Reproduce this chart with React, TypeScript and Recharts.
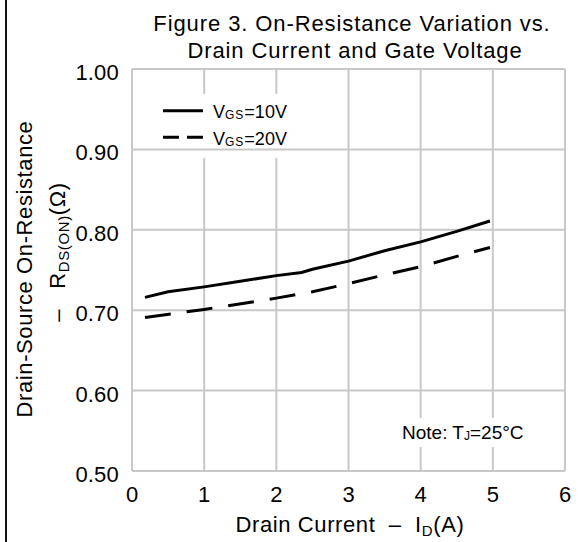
import React from 'react';
import { LineChart, Line, XAxis, YAxis, CartesianGrid } from 'recharts';

// axis ticks
const currentTicks = [0, 1, 2, 3, 4, 5, 6];
const resistanceTicks = [0.5, 0.6, 0.7, 0.8, 0.9, 1.0];

// VGS = 10V curve
const vgs10Current = [0.18, 0.5, 1, 1.5, 2, 2.35, 2.5, 3, 3.5, 4, 4.5, 4.96];
const vgs10Res = [0.716, 0.723, 0.729, 0.736, 0.743, 0.747, 0.751, 0.761, 0.774, 0.785, 0.798, 0.811];

// VGS = 20V curve
const vgs20Current = [0.18, 1, 2, 2.5, 3, 3.5, 4, 4.5, 4.96];
const vgs20Res = [0.691, 0.701, 0.715, 0.723, 0.733, 0.744, 0.754, 0.767, 0.778];

const vgs10Data = vgs10Current.map((i, k) => ({ i, r: vgs10Res[k] }));
const vgs20Data = vgs20Current.map((i, k) => ({ i, r: vgs20Res[k] }));

const FONT = '"Liberation Sans", Arial, sans-serif';
const GRID = '#c8c8c8';

// gaps in the vertical grid lines behind the legend and the note
const gaps = [
  { from: 150, to: 295, top: 94, bottom: 158 },
  { from: 398, to: 530, top: 418, bottom: 447 }
];

function VerticalLine(props: any) {
  const { x1, y1, x2, y2, index } = props;
  const gap = gaps.find(g => x1 > g.from && x1 < g.to);
  if (!gap) {
    return <line key={`v-${index}`} x1={x1} y1={y1} x2={x2} y2={y2} stroke={GRID} strokeWidth={2} />;
  }
  return (
    <g key={`v-${index}`}>
      <line x1={x1} y1={y1} x2={x2} y2={gap.top} stroke={GRID} strokeWidth={2} />
      <line x1={x1} y1={gap.bottom} x2={x2} y2={y2} stroke={GRID} strokeWidth={2} />
    </g>
  );
}

function XTick({ x, payload }: any) {
  return (
    <text x={x} y={502} textAnchor="middle" fontFamily={FONT} fontSize={22} fill="#000">
      {payload.value}
    </text>
  );
}

function YTick({ y, payload }: any) {
  return (
    <text x={119} y={y + 11} textAnchor="end" fontFamily={FONT} fontSize={22} letterSpacing={0.2} fill="#000">
      {payload.value.toFixed(2)}
    </text>
  );
}

export default function App() {
  return (
    <div style={{ position: 'absolute', left: 0, top: 0, width: 586, height: 542, background: '#fff' }}>
      <LineChart width={586} height={542} margin={{ top: 69, right: 21, bottom: 0, left: 0 }}>
        <CartesianGrid stroke={GRID} strokeWidth={2} vertical={VerticalLine} />
        <XAxis
          type="number"
          dataKey="i"
          domain={[0, 6]}
          ticks={currentTicks}
          height={71}
          axisLine={false}
          tickLine={false}
          tick={<XTick />}
        />
        <YAxis
          type="number"
          domain={[0.5, 1.0]}
          ticks={resistanceTicks}
          width={132}
          axisLine={false}
          tickLine={false}
          tick={<YTick />}
        />
        <Line
          data={vgs10Data}
          dataKey="r"
          type="linear"
          stroke="#000"
          strokeWidth={3}
          dot={false}
          isAnimationActive={false}
        />
        <Line
          data={vgs20Data}
          dataKey="r"
          type="linear"
          stroke="#000"
          strokeWidth={3}
          strokeDasharray="26 16"
          dot={false}
          isAnimationActive={false}
        />
      </LineChart>

      <svg
        width={586}
        height={542}
        style={{ position: 'absolute', left: 0, top: 0, pointerEvents: 'none' }}
        fontFamily={FONT}
      >
        <rect x={5} y={0} width={2} height={542} fill="#111" />

        {/* title */}
        <text x={352} y={31} textAnchor="middle" fontSize={22} letterSpacing={0.9} fill="#000">
          Figure 3. On-Resistance Variation vs.
        </text>
        <text x={355} y={58} textAnchor="middle" fontSize={22} letterSpacing={0.9} fill="#000">
          Drain Current and Gate Voltage
        </text>

        {/* y axis title */}
        <text transform="translate(32,269) rotate(-90)" textAnchor="middle" fontSize={22} letterSpacing={0.6} fill="#000">
          Drain-Source On-Resistance
        </text>
        <text transform="translate(65,252) rotate(-90)" textAnchor="middle" fontSize={22} letterSpacing={0.6} fill="#000">
          {'–\u00A0\u00A0\u00A0R'}
          <tspan fontSize={15} dy={4}>DS(ON)</tspan>
          <tspan dy={-4}>(Ω)</tspan>
        </text>

        {/* x axis title */}
        <text x={350} y={532} textAnchor="middle" fontSize={22} letterSpacing={0.6} fill="#000">
          {'Drain Current\u00A0\u00A0–\u00A0\u00A0I'}
          <tspan fontSize={15} dy={4}>D</tspan>
          <tspan dy={-4}>(A)</tspan>
        </text>

        {/* legend */}
        <line x1={163} y1={110.7} x2={203} y2={110.7} stroke="#000" strokeWidth={3} />
        <text x={213} y={118} fontSize={18} fill="#000">
          V<tspan fontSize={12} dy={1} letterSpacing={1}>GS</tspan><tspan dy={-1}>=10V</tspan>
        </text>
        <line x1={163} y1={137.3} x2={203} y2={137.3} stroke="#000" strokeWidth={3} strokeDasharray="16 8" />
        <text x={213} y={145} fontSize={18} fill="#000">
          V<tspan fontSize={12} dy={1} letterSpacing={1}>GS</tspan><tspan dy={-1}>=20V</tspan>
        </text>

        {/* note */}
        <text x={402} y={439} fontSize={19} fill="#000">
          Note: T<tspan fontSize={12} dy={1}>J</tspan><tspan dy={-1}>=25°C</tspan>
        </text>
      </svg>
    </div>
  );
}
